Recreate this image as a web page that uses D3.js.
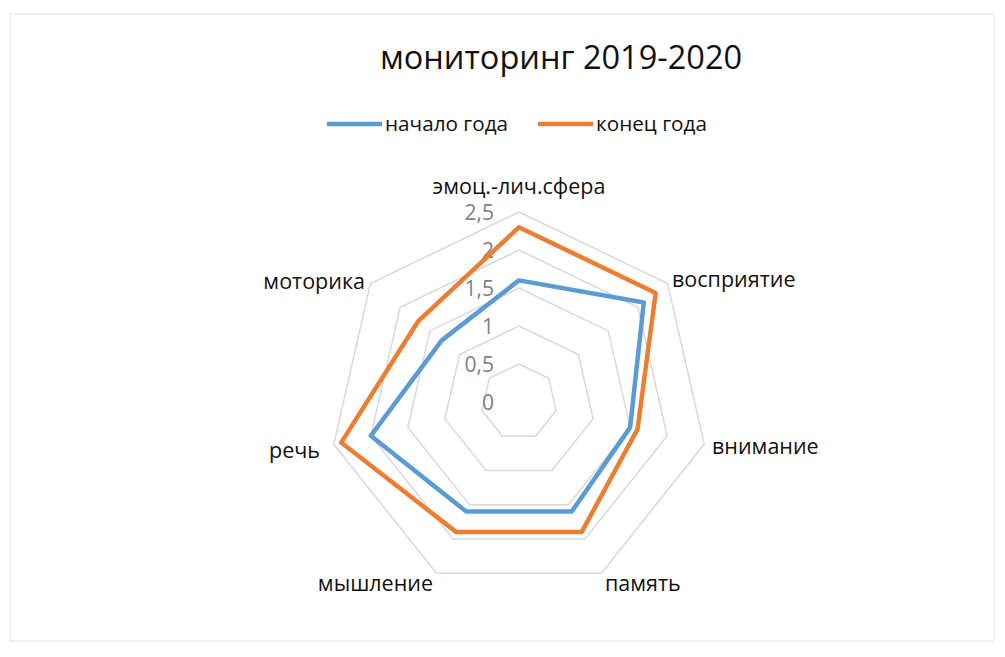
<!DOCTYPE html>
<html>
<head>
<meta charset="utf-8">
<script src="https://cdn.jsdelivr.net/npm/d3@7"></script>
<style>
  body { margin: 0; background: #fff; }
  svg { font-family: "Open Sans", "Noto Sans", sans-serif; }
</style>
</head>
<body>
<svg id="chart" width="1005" height="657"></svg>
<script>
// categories, clockwise from the top
var categories = ["эмоц.-лич.сфера", "восприятие", "внимание", "память", "мышление", "речь", "моторика"];
var startYear = [1.6, 2.1, 1.5, 1.6, 1.6, 2.0, 1.3];   // начало года
var endYear   = [2.3, 2.3, 1.6, 1.9, 1.9, 2.4, 1.7];   // конец года
var seriesNames = ["начало года", "конец года"];
var tickValues = [0, 0.5, 1, 1.5, 2, 2.5];
var tickLabels = ["0", "0,5", "1", "1,5", "2", "2,5"];

var colors = ["#5b9bd5", "#ed7d31"];

var svg = d3.select("#chart"),
    cx = 519, cy = 402, radius = 190;

// faint outer frame
svg.append("rect")
    .attr("x", 10).attr("y", 14)
    .attr("width", 984).attr("height", 627)
    .attr("fill", "none")
    .attr("stroke", "#ececec")
    .attr("stroke-width", 1.5);

var r = d3.scaleLinear().domain([0, 2.5]).range([0, radius]);
var angle = d3.scalePoint().domain(d3.range(categories.length + 1)).range([0, 2 * Math.PI]);

function pt(i, v) {
  var a = angle(i);
  return [cx + r(v) * Math.sin(a), cy - r(v) * Math.cos(a)];
}

var g = svg.append("g");

// grid rings
tickValues.slice(1).forEach(function(t) {
  var ring = categories.map(function(c, i) { return pt(i, t); });
  g.append("polygon")
      .attr("points", ring.map(function(p) { return p.join(","); }).join(" "))
      .attr("fill", "none")
      .attr("stroke", "#d9d9d9")
      .attr("stroke-width", 1.5);
});

// tick labels
g.selectAll(".tick")
    .data(tickValues)
  .enter().append("text")
    .attr("class", "tick")
    .attr("x", cx - 25)
    .attr("y", function(d) { return cy - r(d) + 1; })
    .attr("dy", "0.35em")
    .attr("text-anchor", "end")
    .attr("fill", "#7f7f7f")
    .style("font-size", "21px")
    .text(function(d, i) { return tickLabels[i]; });

// series
var line = d3.line()
    .x(function(d, i) { return pt(i, d)[0]; })
    .y(function(d, i) { return pt(i, d)[1]; })
    .curve(d3.curveLinearClosed);

[startYear, endYear].forEach(function(s, k) {
  g.append("path")
      .datum(s)
      .attr("fill", "none")
      .attr("stroke", colors[k])
      .attr("stroke-width", 4.5)
      .attr("stroke-linejoin", "round")
      .attr("d", line);
});

// category labels
var labelPos = [
  {x: 519, y: 186, anchor: "middle"},
  {x: 672, y: 279, anchor: "start"},
  {x: 712, y: 446, anchor: "start"},
  {x: 605, y: 583, anchor: "start"},
  {x: 433, y: 583, anchor: "end"},
  {x: 320, y: 450, anchor: "end"},
  {x: 365, y: 281, anchor: "end"}
];
g.selectAll(".cat")
    .data(categories)
  .enter().append("text")
    .attr("class", "cat")
    .attr("x", function(d, i) { return labelPos[i].x; })
    .attr("y", function(d, i) { return labelPos[i].y; })
    .attr("dy", "0.35em")
    .attr("text-anchor", function(d, i) { return labelPos[i].anchor; })
    .attr("fill", "#111")
    .style("font-size", "21.5px")
    .text(function(d) { return d; });

// title
svg.append("text")
    .attr("x", 561).attr("y", 58)
    .attr("dy", "0.35em")
    .attr("text-anchor", "middle")
    .attr("fill", "#111")
    .style("font-size", "32.5px")
    .text("мониторинг 2019-2020");

// legend
var legendX = [327, 538];
seriesNames.forEach(function(name, k) {
  svg.append("line")
      .attr("x1", legendX[k]).attr("x2", legendX[k] + 55)
      .attr("y1", 124).attr("y2", 124)
      .attr("stroke", colors[k])
      .attr("stroke-width", 4.5);
  svg.append("text")
      .attr("x", legendX[k] + 58).attr("y", 124)
      .attr("dy", "0.35em")
      .attr("fill", "#111")
      .style("font-size", "20.7px")
      .text(name);
});
</script>
</body>
</html>
